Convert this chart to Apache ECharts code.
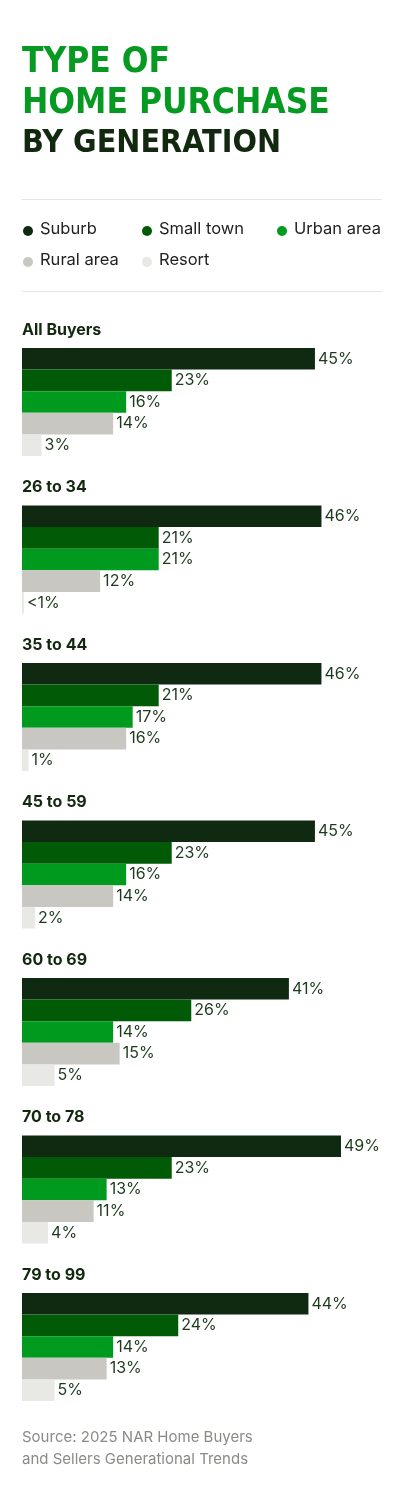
<!DOCTYPE html>
<html>
<head>
<meta charset="utf-8">
<script src="https://cdn.jsdelivr.net/npm/echarts@6/dist/echarts.min.js"></script>
<style>
  html, body { margin: 0; padding: 0; background: #fff; }
  #chart { width: 404px; height: 1500px; }
</style>
</head>
<body>
<div id="chart"></div>
<script>
const groups = ['All Buyers', '26 to 34', '35 to 44', '45 to 59', '60 to 69', '70 to 78', '79 to 99'];
const types = ['Suburb', 'Small town', 'Urban area', 'Rural area', 'Resort'];
const suburb = [45, 46, 46, 45, 41, 49, 44];
const smallTown = [23, 21, 21, 23, 26, 23, 24];
const urban = [16, 21, 17, 16, 14, 13, 14];
const rural = [14, 12, 16, 14, 15, 11, 13];
const resort = [3, 0.3, 1, 2, 5, 4, 5];
const resortLabels = ['3%', '<1%', '1%', '2%', '5%', '4%', '5%'];
const colors = ['#0f2a10', '#005a06', '#009a1e', '#c8c7c1', '#e8e8e4'];

const chart = echarts.init(document.getElementById('chart'));
const font = 'Inter, "Noto Sans", sans-serif';
const groupTop = 348, groupStep = 157.5, barH = 21.6;

const grids = [], xAxes = [], yAxes = [], series = [], graphic = [];

// title
[['TYPE OF', '#079a22', 65, 35], ['HOME PURCHASE', '#079a22', 106, 35], ['BY GENERATION', '#12290f', 148, 32]].forEach(([t, c, y, s]) => {
    graphic.push({ type: 'text', left: 22, top: y - 20, style: { text: t, fill: c, font: 'bold ' + s + 'px "DejaVu Sans Condensed", sans-serif' } });
});
graphic.push({ type: 'rect', shape: { x: 22, y: 199, width: 360, height: 1 }, style: { fill: '#e6e6e1' } });
graphic.push({ type: 'rect', shape: { x: 22, y: 291, width: 360, height: 1 }, style: { fill: '#e6e6e1' } });

// legend
const legendPos = [[22, 231], [141, 231], [276, 231], [22, 262], [141, 262]];
types.forEach((t, i) => {
    const [x, y] = legendPos[i];
    graphic.push({ type: 'circle', shape: { cx: x + 6, cy: y, r: 5 }, style: { fill: colors[i] } });
    graphic.push({ type: 'text', left: x + 18, top: y - 10, style: { text: t, fill: '#222', font: '16.5px ' + font } });
});

groups.forEach((g, i) => {
    const top = groupTop + i * groupStep;
    graphic.push({ type: 'text', left: 22, top: top - 26, style: { text: g, fill: '#12290f', font: 'bold 16px ' + font } });
    grids.push({ left: 22, top: top, width: 360, height: barH * 5 });
    xAxes.push({ gridIndex: i, type: 'value', min: 0, max: 55.3, show: false });
    yAxes.push({ gridIndex: i, type: 'category', data: types, inverse: true, show: false });
    const vals = [suburb[i], smallTown[i], urban[i], rural[i], resort[i]];
    series.push({
        type: 'bar', xAxisIndex: i, yAxisIndex: i,
        barCategoryGap: 0,
        data: vals.map((v, k) => ({ value: v, itemStyle: { color: colors[k] } })),
        label: {
            show: true, position: 'right', distance: 3,
            color: '#1d3a1d', fontSize: 16, fontFamily: font,
            formatter: p => p.dataIndex === 4 ? resortLabels[i] : p.value + '%'
        },
        silent: true
    });
});

graphic.push({ type: 'text', left: 22, top: 1426, style: { text: 'Source: 2025 NAR Home Buyers\nand Sellers Generational Trends', fill: '#8a8a86', font: '15px ' + font, lineHeight: 22 } });

chart.setOption({ animation: false, grid: grids, xAxis: xAxes, yAxis: yAxes, series: series, graphic: graphic });
</script>
</body>
</html>
